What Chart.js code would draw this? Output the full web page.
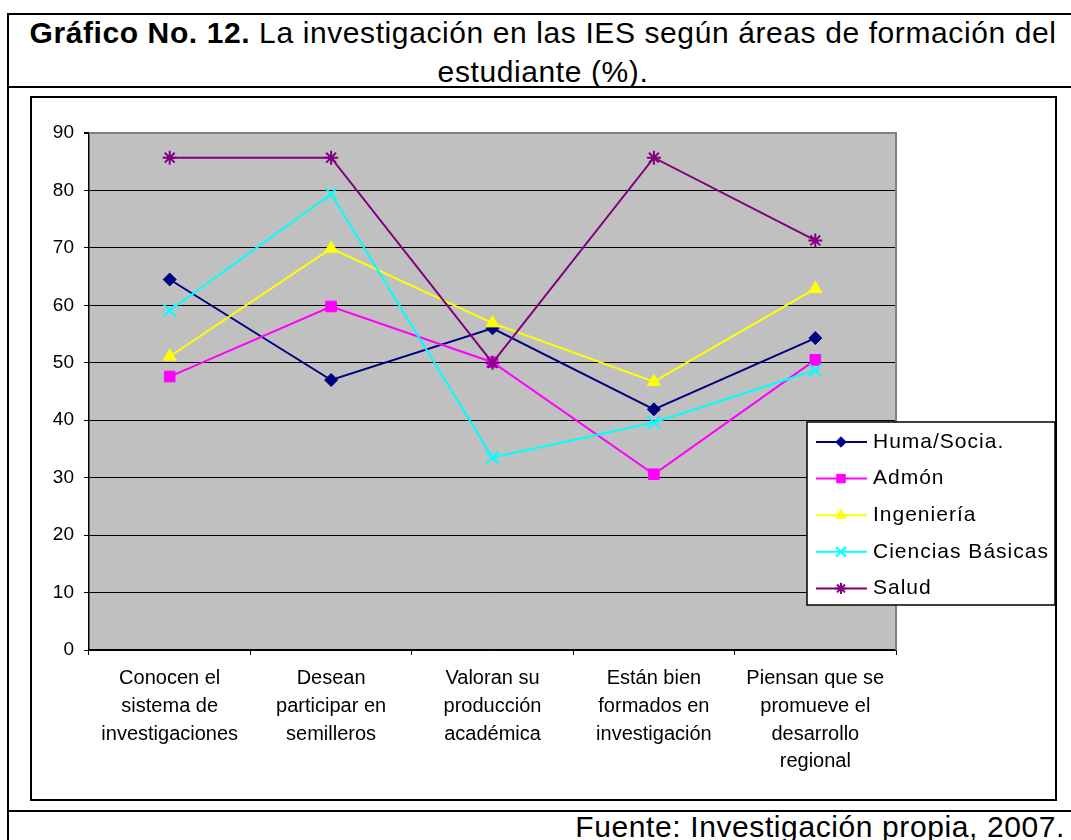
<!DOCTYPE html>
<html>
<head>
<meta charset="utf-8">
<script src="https://cdn.jsdelivr.net/npm/chart.js@4.4.1/dist/chart.umd.min.js"></script>
<style>
    body { margin: 0; width: 1071px; height: 840px; overflow: hidden; background: #fff; position: relative; font-family: Arial, "Liberation Sans", sans-serif; }
    #outer { position: absolute; left: 7px; top: 13px; width: 1080px; height: 900px; border: 2px solid #000; box-sizing: border-box; }
    .rule { position: absolute; left: 7px; width: 1080px; height: 2px; background: #000; }
    #title { position: absolute; left: 7px; width: 1072px; top: 13px; text-align: center; font-size: 30px; line-height: 39px; letter-spacing: 0.6px; color: #000; }
    #frame { position: absolute; left: 30px; top: 96px; width: 1027px; height: 705px; border: 2px solid #000; box-sizing: border-box; }
    #footer { position: absolute; right: 6px; top: 808px; font-size: 30px; line-height: 38px; letter-spacing: 0.6px; white-space: nowrap; }
    #grafico { position: absolute; left: 0; top: 0; }
</style>
</head>
<body>
<div id="outer"></div>
<div id="title"><b>Gráfico No. 12.</b> La investigación en las IES según áreas de formación del<br>estudiante (%).</div>
<div class="rule" style="top:86px"></div>
<div id="frame"></div>
<div class="rule" style="top:810px"></div>
<div id="footer">Fuente: Investigación propia, 2007.</div>
<canvas id="grafico" width="1071" height="840"></canvas>
<script>
// Datos
const categorias = [
    ['Conocen el', 'sistema de', 'investigaciones'],
    ['Desean', 'participar en', 'semilleros'],
    ['Valoran su', 'producción', 'académica'],
    ['Están bien', 'formados en', 'investigación'],
    ['Piensan que se', 'promueve el', 'desarrollo', 'regional']
];
const humaSocia = [64.5, 47.0, 56.0, 41.9, 54.3];
const admon = [47.6, 59.8, 50.1, 30.6, 50.5];
const ingenieria = [51.1, 69.9, 56.9, 46.7, 62.9];
const cienciasBasicas = [59.1, 79.4, 33.5, 39.6, 48.7];
const salud = [85.7, 85.7, 50.0, 85.7, 71.3];
const ticksY = [0, 10, 20, 30, 40, 50, 60, 70, 80, 90];

const fuente = 'Arial, "Liberation Sans", sans-serif';

function serie(label, data, color, estilo, radio, orden, relleno) {
    return {
        label: label,
        data: data,
        borderColor: color,
        backgroundColor: relleno ? color : 'transparent',
        pointBackgroundColor: color,
        pointBorderColor: color,
        pointStyle: estilo,
        pointRadius: radio,
        pointBorderWidth: relleno ? 1 : 2,
        borderWidth: 2,
        tension: 0,
        order: orden
    };
}

// Fondo gris del área de trazado
const fondoGris = {
    id: 'fondoGris',
    beforeDraw(chart) {
        const a = chart.chartArea, ctx = chart.ctx;
        ctx.save();
        ctx.fillStyle = '#C0C0C0';
        ctx.fillRect(a.left, a.top, a.right - a.left, a.bottom - a.top);
        ctx.restore();
    },
    afterDatasetsDraw(chart) {
        const a = chart.chartArea, ctx = chart.ctx;
        ctx.save();
        ctx.strokeStyle = '#808080';
        ctx.lineWidth = 2;
        ctx.beginPath();
        ctx.moveTo(a.left, a.top);
        ctx.lineTo(a.right, a.top);
        ctx.lineTo(a.right, a.bottom);
        ctx.stroke();
        ctx.restore();
    }
};

// Leyenda dibujada encima del área de trazado, como en Excel
const leyenda = {
    id: 'leyenda',
    afterDraw(chart) {
        const ctx = chart.ctx;
        const x0 = 807, y0 = 422, w = 248, h = 183;
        ctx.save();
        ctx.fillStyle = '#fff';
        ctx.fillRect(x0, y0, w, h);
        ctx.strokeStyle = '#000';
        ctx.lineWidth = 1.5;
        ctx.strokeRect(x0, y0, w, h);
        ctx.font = '21px ' + fuente;
        ctx.letterSpacing = '1px';
        ctx.textBaseline = 'middle';
        chart.data.datasets.forEach(function (ds, i) {
            const y = 442 + i * 36.6;
            ctx.strokeStyle = ds.borderColor;
            ctx.lineWidth = 2;
            ctx.beginPath();
            ctx.moveTo(816, y);
            ctx.lineTo(867, y);
            ctx.stroke();
            ctx.fillStyle = ds.pointBackgroundColor;
            ctx.strokeStyle = ds.pointBorderColor;
            ctx.lineWidth = ds.pointBorderWidth;
            Chart.helpers.drawPoint(ctx, { pointStyle: ds.pointStyle, radius: ds.pointRadius * 0.8, rotation: 0, borderWidth: ds.pointBorderWidth }, 841, y);
            ctx.fillStyle = '#000';
            ctx.fillText(ds.label, 873, y);
        });
        ctx.restore();
    }
};

const ctx = document.getElementById('grafico').getContext('2d');
const grafico = new Chart(ctx, {
    type: 'line',
    data: {
        labels: categorias,
        datasets: [
            serie('Huma/Socia.', humaSocia, '#000080', 'rectRot', 6.5, 5, true),
            serie('Admón', admon, '#FF00FF', 'rect', 7.5, 4, true),
            serie('Ingeniería', ingenieria, '#FFFF00', 'triangle', 7.5, 3, true),
            serie('Ciencias Básicas', cienciasBasicas, '#00FFFF', 'crossRot', 8.5, 2, false),
            serie('Salud', salud, '#800080', 'star', 7, 1, false)
        ]
    },
    options: {
        responsive: false,
        animation: false,
        devicePixelRatio: 1,
        layout: { padding: { left: 29, top: 133, right: 175, bottom: 50 } },
        plugins: {
            legend: { display: false },
            tooltip: { enabled: false }
        },
        scales: {
            x: {
                type: 'category',
                offset: true,
                grid: { offset: true, drawOnChartArea: false, drawTicks: true, tickLength: 5, color: '#000' },
                border: { color: '#000', width: 1.5 },
                ticks: {
                    color: '#000',
                    padding: 10,
                    maxRotation: 0,
                    autoSkip: false,
                    font: { family: fuente, size: 20, lineHeight: 1.38 }
                },
                afterFit(scale) { scale.height = 140; }
            },
            y: {
                min: 0,
                max: 90,
                afterBuildTicks(scale) { scale.ticks = ticksY.map(v => ({ value: v })); },
                grid: {
                    color: c => (c.tick && c.tick.value === 90) ? '#808080' : '#000',
                    lineWidth: c => (c.tick && c.tick.value === 90) ? 2 : 1,
                    tickColor: '#000',
                    tickLength: 5
                },
                border: { color: '#000', width: 1.5 },
                ticks: {
                    color: '#000',
                    padding: 10,
                    font: { family: fuente, size: 19 }
                },
                afterFit(scale) { scale.width = 60; }
            }
        }
    },
    plugins: [fondoGris, leyenda]
});
</script>
</body>
</html>
